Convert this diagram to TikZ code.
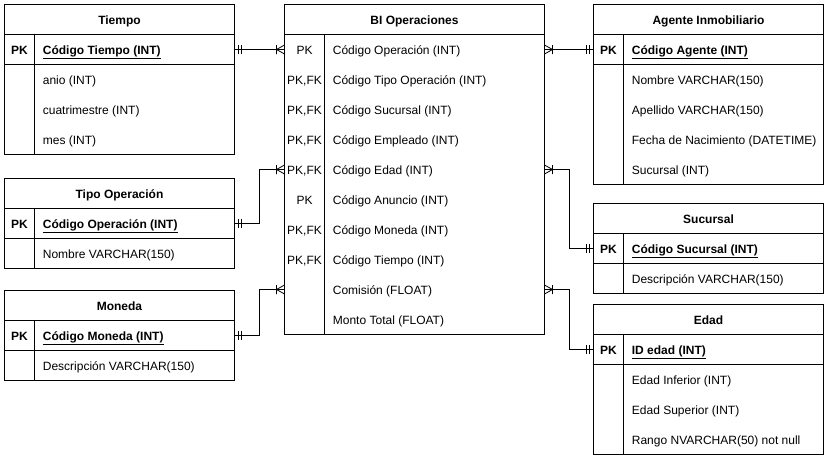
\documentclass[tikz,border=0pt]{standalone}
\usepackage{fontspec}
\setmainfont{Liberation Sans}
\usetikzlibrary{positioning}

\newcommand\erfont{\fontsize{12pt}{14pt}\selectfont}

% crow's foot with bar (one or many)
\pgfdeclarearrow{
  name=erMany,
  setup code={
    \pgfarrowssettipend{0pt}
    \pgfarrowssetlineend{0pt}
    \pgfarrowssetbackend{-9pt}
  },
  drawing code={
    \pgfsetdash{}{0pt}
    \pgfpathmoveto{\pgfpoint{0pt}{4.5pt}}
    \pgfpathlineto{\pgfpoint{-8pt}{0pt}}
    \pgfpathlineto{\pgfpoint{0pt}{-4.5pt}}
    \pgfpathmoveto{\pgfpoint{-8pt}{4.5pt}}
    \pgfpathlineto{\pgfpoint{-8pt}{-4.5pt}}
    \pgfusepathqstroke
  }
}
% two bars (mandatory one)
\pgfdeclarearrow{
  name=erOne,
  setup code={
    \pgfarrowssettipend{0pt}
    \pgfarrowssetlineend{0pt}
    \pgfarrowssetbackend{-8pt}
  },
  drawing code={
    \pgfsetdash{}{0pt}
    \pgfpathmoveto{\pgfpoint{-4pt}{4.5pt}}
    \pgfpathlineto{\pgfpoint{-4pt}{-4.5pt}}
    \pgfpathmoveto{\pgfpoint{-7pt}{4.5pt}}
    \pgfpathlineto{\pgfpoint{-7pt}{-4.5pt}}
    \pgfusepathqstroke
  }
}

\begin{document}
\begin{tikzpicture}[x=1pt, y=-1pt, line width=0.8pt,
	cell/.style={draw, inner sep=0pt, outer sep=0pt, minimum width=230pt, minimum height=30pt},
	title/.style={cell, text height=10pt, text depth=1pt, font=\erfont\bfseries},
	key/.style={inner sep=0pt, text height=10pt, text depth=1pt, font=\erfont},
	pkkey/.style={key, font=\erfont\bfseries},
	field/.style={key, anchor=west},
	pkfield/.style={field, font=\erfont\bfseries},
	rel/.style={erOne-erMany}]
		\useasboundingbox (0,0) rectangle (829,459);

		% Tiempo
		\node[title] (tiempo) at (119.5,19.5) {Tiempo};
		\node[cell, below=0pt of tiempo] (tiempoPK) {};
		\node[cell, minimum height=90pt, below=0pt of tiempoPK] (tiempoB) {};
		\draw ([xshift=30pt]tiempoPK.north west) -- ([xshift=30pt]tiempoB.south west);
		\node[pkkey] (tiempoK) at ([xshift=15pt]tiempoPK.west) {PK};
		\node[pkfield] (tiempo0) at ([xshift=38pt]tiempoPK.west) {\underline{Código Tiempo (INT)}};
		\foreach \f [count=\i] in {anio (INT), cuatrimestre (INT), mes (INT)}
			\node[field] (tiempo\i) at ([xshift=38pt, yshift=15pt-30pt*\i]tiempoB.north west) {\f};

		% Tipo Operacion
		\node[title] (tipo) at (119.5,193.5) {Tipo Operación};
		\node[cell, below=0pt of tipo] (tipoPK) {};
		\node[cell, below=0pt of tipoPK] (tipoB) {};
		\draw ([xshift=30pt]tipoPK.north west) -- ([xshift=30pt]tipoB.south west);
		\node[pkkey] (tipoK) at ([xshift=15pt]tipoPK.west) {PK};
		\node[pkfield] (tipo0) at ([xshift=38pt]tipoPK.west) {\underline{Código Operación (INT)}};
		\node[field] (tipo1) at ([xshift=38pt]tipoB.west) {Nombre VARCHAR(150)};

		% Moneda
		\node[title] (moneda) at (119.5,305.5) {Moneda};
		\node[cell, below=0pt of moneda] (monedaPK) {};
		\node[cell, below=0pt of monedaPK] (monedaB) {};
		\draw ([xshift=30pt]monedaPK.north west) -- ([xshift=30pt]monedaB.south west);
		\node[pkkey] (monedaK) at ([xshift=15pt]monedaPK.west) {PK};
		\node[pkfield] (moneda0) at ([xshift=38pt]monedaPK.west) {\underline{Código Moneda (INT)}};
		\node[field] (moneda1) at ([xshift=38pt]monedaB.west) {Descripción VARCHAR(150)};

		% BI Operaciones
		\node[title, minimum width=260pt] (bi) at (414.5,19.5) {BI Operaciones};
		\node[cell, minimum width=260pt, minimum height=300pt, below=0pt of bi] (biB) {};
		\draw ([xshift=40pt]biB.north west) -- ([xshift=40pt]biB.south west);
		\foreach \k/\f [count=\i] in {PK/Código Operación (INT), {PK,FK}/Código Tipo Operación (INT),
			{PK,FK}/Código Sucursal (INT), {PK,FK}/Código Empleado (INT), {PK,FK}/Código Edad (INT),
			PK/Código Anuncio (INT), {PK,FK}/Código Moneda (INT), {PK,FK}/Código Tiempo (INT),
			{}/Comisión (FLOAT), {}/Monto Total (FLOAT)}
		{
			\node[key] (biK\i) at ([xshift=20pt, yshift=15pt-30pt*\i]biB.north west) {\k};
			\node[field] (bi\i) at ([xshift=48pt, yshift=15pt-30pt*\i]biB.north west) {\f};
		}

		% Agente Inmobiliario
		\node[title] (agente) at (708.5,19.5) {Agente Inmobiliario};
		\node[cell, below=0pt of agente] (agentePK) {};
		\node[cell, minimum height=120pt, below=0pt of agentePK] (agenteB) {};
		\draw ([xshift=30pt]agentePK.north west) -- ([xshift=30pt]agenteB.south west);
		\node[pkkey] (agenteK) at ([xshift=15pt]agentePK.west) {PK};
		\node[pkfield] (agente0) at ([xshift=38pt]agentePK.west) {\underline{Código Agente (INT)}};
		\foreach \f [count=\i] in {Nombre VARCHAR(150), Apellido VARCHAR(150),
			Fecha de Nacimiento (DATETIME), Sucursal (INT)}
			\node[field] (agente\i) at ([xshift=38pt, yshift=15pt-30pt*\i]agenteB.north west) {\f};

		% Sucursal
		\node[title] (sucursal) at (708.5,218.5) {Sucursal};
		\node[cell, below=0pt of sucursal] (sucursalPK) {};
		\node[cell, below=0pt of sucursalPK] (sucursalB) {};
		\draw ([xshift=30pt]sucursalPK.north west) -- ([xshift=30pt]sucursalB.south west);
		\node[pkkey] (sucursalK) at ([xshift=15pt]sucursalPK.west) {PK};
		\node[pkfield] (sucursal0) at ([xshift=38pt]sucursalPK.west) {\underline{Código Sucursal (INT)}};
		\node[field] (sucursal1) at ([xshift=38pt]sucursalB.west) {Descripción VARCHAR(150)};

		% Edad
		\node[title] (edad) at (708.5,319.5) {Edad};
		\node[cell, below=0pt of edad] (edadPK) {};
		\node[cell, minimum height=90pt, below=0pt of edadPK] (edadB) {};
		\draw ([xshift=30pt]edadPK.north west) -- ([xshift=30pt]edadB.south west);
		\node[pkkey] (edadK) at ([xshift=15pt]edadPK.west) {PK};
		\node[pkfield] (edad0) at ([xshift=38pt]edadPK.west) {\underline{ID edad (INT)}};
		\foreach \f [count=\i] in {Edad Inferior (INT), Edad Superior (INT), Rango NVARCHAR(50) not null}
			\node[field] (edad\i) at ([xshift=38pt, yshift=15pt-30pt*\i]edadB.north west) {\f};

		% relations
		\draw[rel] (tiempoPK.east) -- (biB.west |- bi1);
		\draw[rel] (tipoPK.east) -- ++(25,0) |- (biB.west |- bi5);
		\draw[rel] (monedaPK.east) -- ++(25,0) |- (biB.west |- bi9);
		\draw[rel] (agentePK.west) -- (biB.east |- bi1);
		\draw[rel] (sucursalPK.west) -- ++(-24,0) |- (biB.east |- bi5);
		\draw[rel] (edadPK.west) -- ++(-24,0) |- (biB.east |- bi9);
	\end{tikzpicture}
\end{document}
